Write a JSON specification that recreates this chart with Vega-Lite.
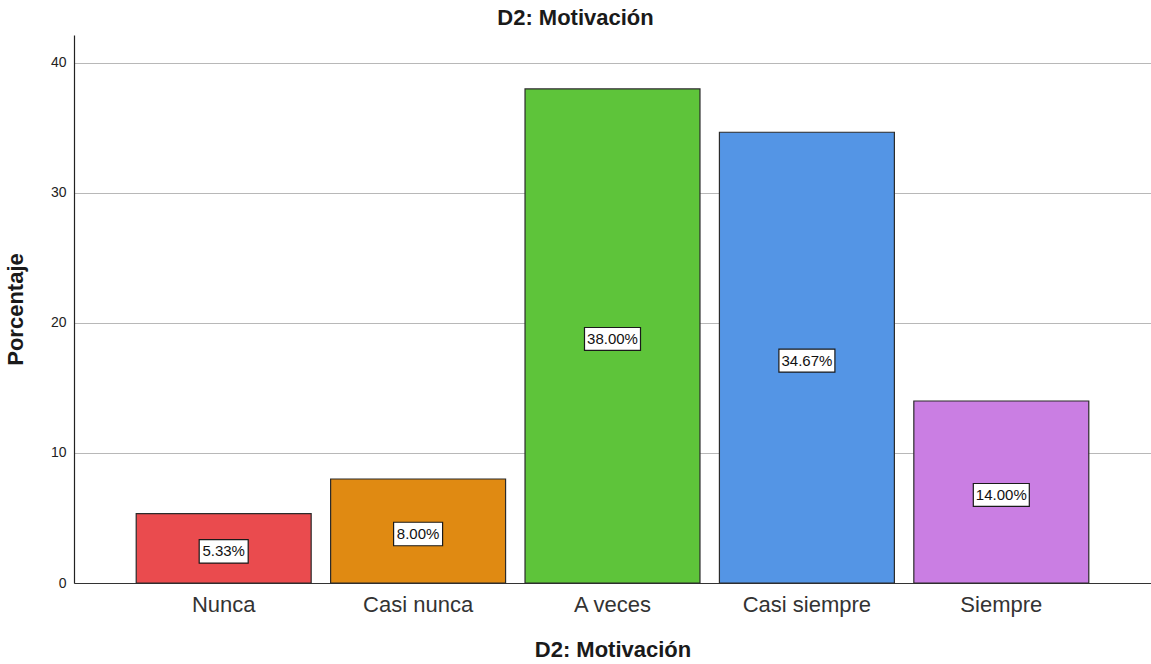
{
  "$schema": "https://vega.github.io/schema/vega-lite/v6.json",
  "autosize": {"type": "none"},
  "width": 1077,
  "height": 548,
  "padding": {"left": 74, "top": 35, "right": 0, "bottom": 81},
  "background": "white",
  "title": {"text": "D2: Motivación", "font": "Liberation Sans", "fontSize": 22, "fontWeight": "bold", "color": "#1a1a1a", "anchor": "middle", "frame": "group", "offset": 5, "dx": -37},
  "config": {"view": {"stroke": null}},
  "data": {"values": [
    {"categoria": "Nunca", "porcentaje": 5.33, "etiqueta": "5.33%"},
    {"categoria": "Casi nunca", "porcentaje": 8.0, "etiqueta": "8.00%"},
    {"categoria": "A veces", "porcentaje": 38.0, "etiqueta": "38.00%"},
    {"categoria": "Casi siempre", "porcentaje": 34.67, "etiqueta": "34.67%"},
    {"categoria": "Siempre", "porcentaje": 14.0, "etiqueta": "14.00%"}
  ]},
  "encoding": {
    "x": {"field": "categoria", "type": "nominal", "sort": null,
      "scale": {"paddingInner": 0.1, "paddingOuter": 0.32},
      "axis": {"title": "D2: Motivación", "titleFont": "Liberation Sans", "titleFontSize": 22, "titleFontWeight": "bold", "titleColor": "#1a1a1a", "titlePadding": 24,
        "labelFont": "Liberation Sans", "labelFontSize": 22, "labelColor": "#333333", "labelAngle": 0, "labelPadding": 11,
        "ticks": false, "domainColor": "#333333", "domainWidth": 1.2, "grid": false}}
  },
  "layer": [
    {
      "mark": {"type": "bar", "stroke": "#2b2b2b", "strokeWidth": 1.2},
      "encoding": {
        "y": {"field": "porcentaje", "type": "quantitative",
          "scale": {"domain": [0, 42.15], "nice": false, "zero": true},
          "axis": {"title": "Porcentaje", "titleFont": "Liberation Sans", "titleFontSize": 22, "titleFontWeight": "bold", "titleColor": "#1a1a1a", "titlePadding": 23,
            "values": [0, 10, 20, 30, 40], "labelFont": "Liberation Sans", "labelFontSize": 14, "labelColor": "#222222", "labelPadding": 8,
            "ticks": false, "domainColor": "#222222", "domainWidth": 1.2,
            "grid": true, "gridColor": "#b8b8b8", "gridWidth": 1.2}},
        "color": {"field": "categoria", "type": "nominal", "legend": null,
          "scale": {"domain": ["Nunca", "Casi nunca", "A veces", "Casi siempre", "Siempre"],
            "range": ["#EA4B4E", "#E08A12", "#5EC43A", "#5495E5", "#CA7EE3"]}}
      }
    },
    {
      "transform": [{"calculate": "datum.porcentaje / 2", "as": "mitad"}],
      "mark": {"type": "point", "filled": true, "fill": "white", "stroke": "#1a1a1a", "strokeWidth": 1.2, "opacity": 1, "yOffset": 3},
      "encoding": {
        "y": {"field": "mitad", "type": "quantitative"},
        "shape": {"condition": {"test": "datum.porcentaje < 10", "value": "M-1,-0.48L1,-0.48L1,0.48L-1,0.48Z"}, "value": "M-1,-0.41L1,-0.41L1,0.41L-1,0.41Z"},
        "size": {"condition": {"test": "datum.porcentaje < 10", "value": 2401}, "value": 3136}
      }
    },
    {
      "transform": [{"calculate": "datum.porcentaje / 2", "as": "mitad"}],
      "mark": {"type": "text", "font": "Liberation Sans", "fontSize": 15, "color": "#111111", "baseline": "middle", "align": "center", "dy": 3},
      "encoding": {
        "y": {"field": "mitad", "type": "quantitative"},
        "text": {"field": "etiqueta"}
      }
    }
  ]
}
